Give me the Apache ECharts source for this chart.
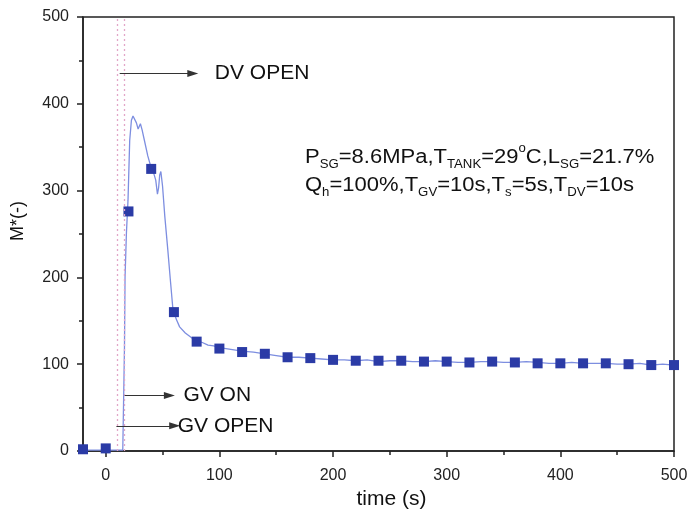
<!DOCTYPE html>
<html>
<head>
<meta charset="utf-8">
<script src="https://cdn.jsdelivr.net/npm/echarts@6/dist/echarts.min.js"></script>
<style>
  html, body { margin: 0; padding: 0; background: #fff; }
  #chart { width: 689px; height: 511px; }
</style>
</head>
<body>
<div id="chart"></div>
<script>
// Continuous response M*(t)
const curveTime = [-20, -10, 0, 10, 15, 16, 16.5, 17, 18.2, 19.6, 21.1, 22.6, 24, 25.4, 27, 28.5, 30.5, 32, 34, 37, 40, 42, 44, 45.5, 46.5, 47.5, 48.5, 50, 52, 54.6, 57, 59, 62, 65, 70, 75, 78, 85, 90, 95, 100, 110, 120, 130, 140, 150, 160, 170, 180, 190, 200, 210, 220, 230, 240, 250, 260, 270, 280, 290, 300, 310, 320, 330, 340, 350, 360, 370, 380, 390, 400, 410, 420, 430, 440, 450, 460, 470, 480, 490, 500];
const curveM    = [1, 1, 1, 1, 1, 2, 120, 200, 251, 289, 358, 381, 386, 387, 378, 371, 377, 370, 358, 340, 326, 321, 312, 296, 303, 318, 322, 305, 270, 232, 195, 165, 152, 143, 136, 131, 128, 125, 122, 121, 119, 117, 115, 114, 112, 110, 108, 108, 107, 106, 105, 105, 104, 105, 103, 104, 104, 103, 103, 104, 103, 102, 102, 103, 103, 102, 102, 103, 102, 101, 101, 102, 101, 101, 101, 100, 100, 101, 99, 100, 99];

// Sampled points every 20 s
const markTime = [-20, 0, 20, 40, 60, 80, 100, 120, 140, 160, 180, 200, 220, 240, 260, 280, 300, 320, 340, 360, 380, 400, 420, 440, 460, 480, 500];
const markM    = [2, 3, 276, 325, 160, 126, 118, 114, 112, 108, 107, 105, 104, 104, 104, 103, 103, 102, 103, 102, 101, 101, 101, 101, 100, 99, 99];

// Valve event lines (s)
const eventTimes = [10, 16];

// Annotation arrows
const noteText   = ['DV OPEN', 'GV ON', 'GV OPEN'];
const noteStartT = [12.3, 16.7, 9.4];
const noteEndT   = [76.6, 56, 60.7];
const noteM      = [435, 64, 29];
const noteGap    = [22, 14, 3];

// Axis ticks
const xMajor = [0, 100, 200, 300, 400, 500];
const xMinor = [50, 150, 250, 350, 450];

const FONT = '"Liberation Sans", Arial, sans-serif';
const chart = echarts.init(document.getElementById('chart'), null, { renderer: 'canvas' });

const arrowLines = noteText.map((t, i) => [
  { coord: [noteStartT[i], noteM[i]], symbol: 'none' },
  {
    coord: [noteEndT[i], noteM[i]], symbol: 'triangle', symbolSize: [7, 11], symbolRotate: -90, name: t,
    label: { distance: noteGap[i] }
  }
]);

const eventLines = eventTimes.map(t => [{ coord: [t, 0] }, { coord: [t, 500] }]);

const option = {
  animation: false,
  backgroundColor: '#ffffff',
  grid: {
    left: 83, right: 15, top: 17, bottom: 60,
    outerBoundsMode: 'none', containLabel: false,
    show: true, borderColor: '#222', borderWidth: 1.5
  },
  xAxis: [{
    type: 'value', min: -20, max: 500,
    name: 'time (s)', nameLocation: 'middle', nameGap: 38,
    nameTextStyle: { fontFamily: FONT, fontSize: 21, color: '#111', padding: [0, 0, 0, 26] },
    axisLine: { onZero: false, lineStyle: { color: '#222', width: 1.5 } },
    axisTick: { customValues: xMajor, length: 6, lineStyle: { color: '#222', width: 1.5 } },
    axisLabel: { customValues: xMajor, fontFamily: FONT, fontSize: 16, color: '#222', margin: 17 },
    splitLine: { show: false }
  }, {
    type: 'value', min: -20, max: 500, position: 'bottom', gridIndex: 0,
    axisLine: { show: false },
    axisTick: { customValues: xMinor, length: 4, lineStyle: { color: '#222', width: 1.5 } },
    axisLabel: { show: false },
    splitLine: { show: false }
  }],
  yAxis: {
    type: 'value', min: 0, max: 500, interval: 100,
    name: 'M*(-)', nameLocation: 'middle', nameGap: 56,
    nameTextStyle: { fontFamily: FONT, fontSize: 18, color: '#111', padding: [0, 0, 0, 26] },
    axisLine: { show: true, onZero: false, lineStyle: { color: '#222', width: 1.5 } },
    axisTick: { show: true, length: 6, lineStyle: { color: '#222', width: 1.5 } },
    minorTick: { show: true, splitNumber: 2, length: 4, lineStyle: { color: '#222', width: 1.5 } },
    axisLabel: { fontFamily: FONT, fontSize: 16, color: '#222', margin: 14 },
    splitLine: { show: false }
  },
  series: [
    {
      type: 'line', name: 'events', data: [], xAxisIndex: 0,
      markLine: {
        silent: true, symbol: 'none',
        lineStyle: { color: '#e2a6c8', type: [2, 3], width: 1.3 },
        label: { show: false },
        data: eventLines
      }
    },
    {
      type: 'line', name: 'M*', xAxisIndex: 0,
      data: curveTime.map((t, i) => [t, curveM[i]]),
      showSymbol: false, symbol: 'none',
      lineStyle: { color: '#7d8ee0', width: 1.3 },
      z: 3
    },
    {
      type: 'scatter', name: 'M* samples', xAxisIndex: 0,
      data: markTime.map((t, i) => [t, markM[i]]),
      symbol: 'rect', symbolSize: 10,
      itemStyle: { color: '#2b3ba6', opacity: 1 },
      z: 4
    },
    {
      type: 'line', name: 'notes', data: [], xAxisIndex: 0,
      markLine: {
        silent: true,
        lineStyle: { color: '#333', type: 'solid', width: 1 },
        label: {
          show: true, position: 'end', formatter: '{b}',
          fontFamily: FONT, fontSize: 21, color: '#111'
        },
        data: arrowLines
      }
    }
  ],
  graphic: [{
    type: 'text', x: 305, y: 143, scaleX: 1.1,
    style: {
      text: '{m|P}{s|SG}{m|=8.6MPa,T}{s|TANK}{m|=29}{u|o}{m|C,L}{s|SG}{m|=21.7%}\n' +
            '{m|Q}{s|h}{m|=100%,T}{s|GV}{m|=10s,T}{s|s}{m|=5s,T}{s|DV}{m|=10s}',
      fontFamily: FONT, fill: '#111', verticalAlign: 'top', align: 'left',
      rich: {
        m: { fontSize: 20, fontFamily: FONT, lineHeight: 28, verticalAlign: 'middle', fill: '#111' },
        s: { fontSize: 12, fontFamily: FONT, lineHeight: 28, verticalAlign: 'bottom', fill: '#111' },
        u: { fontSize: 12, fontFamily: FONT, lineHeight: 28, verticalAlign: 'top', fill: '#111' }
      }
    }
  }]
};

chart.setOption(option);
</script>
</body>
</html>
